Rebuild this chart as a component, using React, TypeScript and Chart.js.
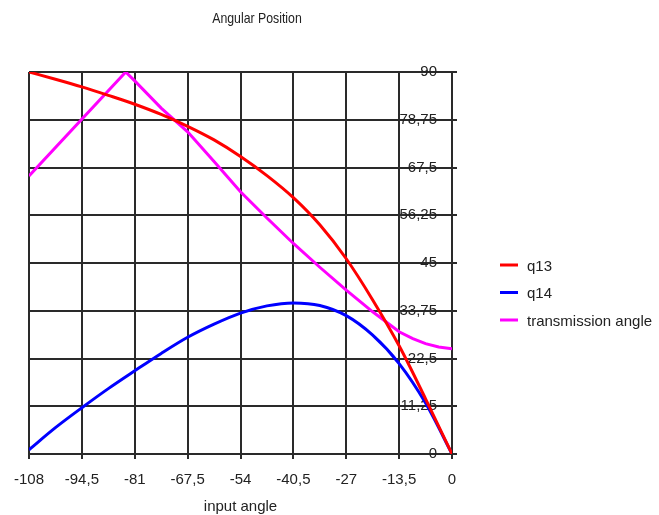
import React, { useEffect, useRef } from "react";
import { Chart, registerables } from "chart.js";

Chart.register(...registerables);

const chartTitle = "Angular Position";
const xAxisTitle = "input angle";

const xTicks = [-108, -94.5, -81, -67.5, -54, -40.5, -27, -13.5, 0];
const xTickLabels = ["-108", "-94,5", "-81", "-67,5", "-54", "-40,5", "-27", "-13,5", "0"];
const yTicks = [0, 11.25, 22.5, 33.75, 45, 56.25, 67.5, 78.75, 90];
const yTickLabels = ["0", "11,25", "22,5", "33,75", "45", "56,25", "67,5", "78,75", "90"];

const inputAngles = [-108, -101.25, -94.5, -87.75, -81, -74.25, -67.5, -60.75, -54, -47.25, -40.5, -33.75, -27, -20.25, -13.5, -6.75, 0];
const q13 = [90, 88.3, 86.5, 84.5, 82.4, 80.0, 77.2, 74.0, 70.1, 65.6, 60.4, 54.0, 46.0, 36.3, 25.5, 13.0, 0];
const q14 = [1.0, 6.2, 10.9, 15.4, 19.6, 23.7, 27.5, 30.6, 33.2, 34.9, 35.6, 35.0, 32.6, 28.0, 21.3, 12.0, 0];

const transAngles = [-108, -83.3, -81, -74.25, -67.5, -60.75, -54, -47.25, -40.5, -33.75, -27, -20.25, -13.5, -10, -6.75, -3.4, 0];
const transmission = [65.5, 90, 87.9, 81.5, 75.9, 68.9, 61.8, 55.6, 49.6, 44.0, 38.6, 33.5, 28.8, 27.2, 26.0, 25.2, 24.8];

const seriesNames = ["q13", "q14", "transmission angle"];
const seriesColors = ["#ff0000", "#0000ff", "#ff00ff"];

const GRID = "#2a2a2a";
const FONT = "'Liberation Sans', Arial, sans-serif";

const overlayPlugin = {
  id: "overlayText",
  afterDraw(chart: any) {
    const ctx = chart.ctx;
    ctx.save();
    ctx.fillStyle = "#222222";
    ctx.font = "15px " + FONT;
    ctx.textAlign = "center";
    ctx.textBaseline = "alphabetic";
    ctx.save();
    ctx.translate(257, 23);
    ctx.scale(0.82, 1);
    ctx.fillText(chartTitle, 0, 0);
    ctx.restore();

    ctx.textAlign = "left";
    chart.data.datasets.forEach((ds: any, i: number) => {
      const y = 265 + i * 27.5;
      ctx.strokeStyle = ds.borderColor;
      ctx.lineWidth = 3;
      ctx.beginPath();
      ctx.moveTo(500, y);
      ctx.lineTo(518, y);
      ctx.stroke();
      ctx.fillText(ds.label, 527, y + 5.5);
    });
    ctx.restore();
  },
};

export default function App() {
  const ref = useRef<HTMLCanvasElement>(null);
  useEffect(() => {
    if (!ref.current) return;
    const chart = new Chart(ref.current, {
      type: "line",
      data: {
        datasets: [
          {
            label: seriesNames[0],
            data: inputAngles.map((x, i) => ({ x, y: q13[i] })),
            borderColor: seriesColors[0],
            borderWidth: 3,
            pointRadius: 0,
            cubicInterpolationMode: "monotone",
          },
          {
            label: seriesNames[1],
            data: inputAngles.map((x, i) => ({ x, y: q14[i] })),
            borderColor: seriesColors[1],
            borderWidth: 3,
            pointRadius: 0,
            cubicInterpolationMode: "monotone",
          },
          {
            label: seriesNames[2],
            data: transAngles.map((x, i) => ({ x, y: transmission[i] })),
            borderColor: seriesColors[2],
            borderWidth: 3,
            pointRadius: 0,
            tension: 0,
          },
        ],
      },
      options: {
        responsive: false,
        animation: false,
        layout: { padding: { left: 29, top: 72, right: 200, bottom: 0 } },
        plugins: { legend: { display: false }, title: { display: false }, tooltip: { enabled: false } },
        scales: {
          x: {
            type: "linear",
            position: "bottom",
            min: -108,
            max: 0,
            afterBuildTicks: (s: any) => {
              s.ticks = xTicks.map((v) => ({ value: v }));
            },
            afterFit: (s: any) => {
              s.height = 61;
            },
            ticks: {
              autoSkip: false,
              maxRotation: 0,
              padding: 12,
              color: "#222222",
              font: { family: FONT, size: 15 },
              callback: (_v: any, i: number) => xTickLabels[i],
            },
            grid: { color: GRID, lineWidth: 2, tickLength: 5, drawTicks: true },
            border: { color: GRID, width: 2 },
            title: {
              display: true,
              text: xAxisTitle,
              color: "#222222",
              font: { family: FONT, size: 15 },
              padding: { top: 0, bottom: -1 },
            },
          },
          y: {
            type: "linear",
            position: "right",
            min: 0,
            max: 90,
            afterBuildTicks: (s: any) => {
              s.ticks = yTicks.map((v) => ({ value: v }));
            },
            afterFit: (s: any) => {
              s.width = 7;
            },
            ticks: {
              mirror: true,
              padding: -15,
              color: "#222222",
              font: { family: FONT, size: 15 },
              callback: (_v: any, i: number) => yTickLabels[i],
            },
            grid: { color: GRID, lineWidth: 2, tickLength: 5, drawTicks: true },
            border: { color: GRID, width: 2 },
          },
        },
      },
      plugins: [overlayPlugin],
    } as any);
    return () => chart.destroy();
  }, []);
  return (
    <div style={{ position: "absolute", left: 0, top: 0, width: 659, height: 515, background: "#fff" }}>
      <canvas ref={ref} width={659} height={515} />
    </div>
  );
}
